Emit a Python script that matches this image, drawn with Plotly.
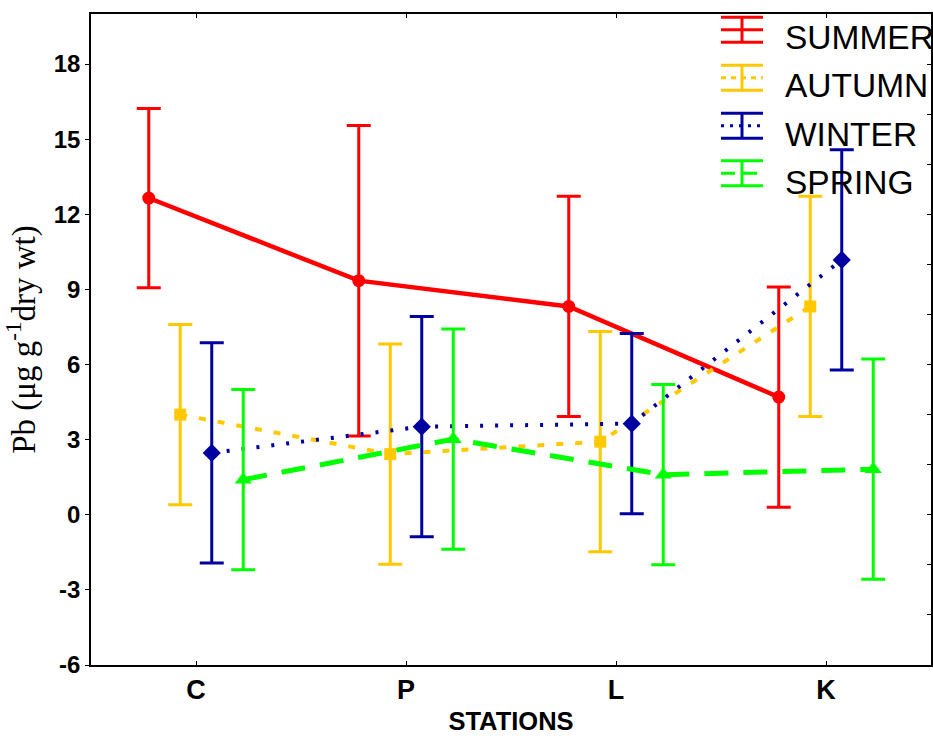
import plotly.graph_objects as go

# ---- data ----
stations = ["C", "P", "L", "K"]
seasons = ["SUMMER", "AUTUMN", "WINTER", "SPRING"]
summer_mean = [12.65, 9.35, 8.32, 4.70]
summer_err = [3.58, 6.2, 4.4, 4.4]
autumn_mean = [4.0, 2.42, 2.92, 8.32]
autumn_err = [3.6, 4.4, 4.4, 4.4]
winter_mean = [2.47, 3.52, 3.64, 10.18]
winter_err = [4.4, 4.4, 3.6, 4.4]
spring_mean = [1.4, 3.02, 1.6, 1.82]
spring_err = [3.6, 4.4, 3.6, 4.4]
season_offsets = [-0.225, -0.075, 0.075, 0.225]
y_tickvals = [-6, -3, 0, 3, 6, 9, 12, 15, 18]
y_ticktext = ["-6", "-3", "0", "3", "6", "9", "12", "15", "18"]

W, H = 933, 736
L, R, T, B = 91, 2, 14, 71
PW, PH = W - L - R, H - T - B

styles = {
    "SUMMER": dict(color="#FF0000", dash="solid", width=4.5, symbol="circle", msize=13),
    "AUTUMN": dict(color="#FFC800", dash="7px,12px", width=4, symbol="square", msize=12),
    "WINTER": dict(color="#0000A0", dash="3px,12px", width=4, symbol="diamond", msize=14),
    "SPRING": dict(color="#00FF00", dash="24px,15px", width=5, symbol="triangle-up", msize=15),
}
series = {
    "SUMMER": (summer_mean, summer_err),
    "AUTUMN": (autumn_mean, autumn_err),
    "WINTER": (winter_mean, winter_err),
    "SPRING": (spring_mean, spring_err),
}

fig = go.Figure()
for k, s in enumerate(seasons):
    mean, err = series[s]
    st = styles[s]
    xs = [i + season_offsets[k] for i in range(len(stations))]
    fig.add_trace(go.Scatter(
        x=xs, y=mean, mode="lines+markers", name=s, showlegend=False,
        line=dict(color=st["color"], width=st["width"], dash=st["dash"]),
        marker=dict(symbol=st["symbol"], size=st["msize"], color=st["color"]),
        error_y=dict(type="data", array=err, symmetric=True, color=st["color"],
                     thickness=3, width=12),
    ))

# invisible trace for the right-hand axis
fig.add_trace(go.Scatter(x=[None], y=[None], yaxis="y2", showlegend=False,
                         hoverinfo="skip"))

def px(xp):
    return (xp - L) / PW

def py(yp):
    return (H - B - yp) / PH

# custom legend (I-beam icons like the original)
shapes = []
annotations = []
icon_mid = [29.7, 77.7, 125.7, 173.3]
text_mid = [37.5, 85.5, 134.0, 182.5]
legend_dash = {"SUMMER": "solid", "AUTUMN": "5px,5px", "WINTER": "3px,6px", "SPRING": "14px,8px"}
for k, s in enumerate(seasons):
    st = styles[s]
    m = icon_mid[k]
    c = st["color"]
    for yy in (m - 12.5, m + 12.5):
        shapes.append(dict(type="line", xref="paper", yref="paper",
                           x0=px(721), x1=px(763), y0=py(yy), y1=py(yy),
                           line=dict(color=c, width=3)))
    shapes.append(dict(type="line", xref="paper", yref="paper",
                       x0=px(742), x1=px(742), y0=py(m - 12.5), y1=py(m + 12.5),
                       line=dict(color=c, width=3)))
    shapes.append(dict(type="line", xref="paper", yref="paper",
                       x0=px(721), x1=px(763), y0=py(m), y1=py(m),
                       line=dict(color=c, width=3, dash=legend_dash[s])))
    annotations.append(dict(xref="paper", yref="paper", x=px(783), y=py(text_mid[k]),
                            xanchor="left", yanchor="middle", text=s, showarrow=False,
                            font=dict(family="Liberation Sans", size=33.5, color="black")))

fig.update_layout(
    width=W, height=H,
    margin=dict(l=L, r=R, t=T, b=B, pad=0),
    paper_bgcolor="white", plot_bgcolor="white",
    showlegend=False,
    shapes=shapes, annotations=annotations,
    xaxis=dict(
        range=[-0.5, 3.5], tickvals=list(range(len(stations))), ticktext=stations,
        ticks="inside", ticklen=4, tickcolor="black", tickwidth=1,
        showline=True, linecolor="black", linewidth=1.5, mirror="ticks",
        showgrid=False, zeroline=False,
        tickfont=dict(family="Liberation Sans", size=27, color="black", weight="bold"),
        title=dict(text="STATIONS", standoff=8,
                   font=dict(family="Liberation Sans", size=25.5, color="black", weight="bold")),
    ),
    yaxis=dict(
        range=[-6, 20], tickvals=y_tickvals, ticktext=y_ticktext,
        ticks="outside", ticklen=4, tickcolor="black", tickwidth=1,
        showline=True, linecolor="black", linewidth=1.5,
        showgrid=False, zeroline=False,
        tickfont=dict(family="Liberation Sans", size=24, color="black", weight="bold"),
        title=dict(text="Pb (μg g<sup>-1</sup>dry wt)", standoff=14,
                   font=dict(family="Liberation Serif", size=33, color="black")),
    ),
    yaxis2=dict(
        range=[-6, 20], overlaying="y", side="right", dtick=2, tick0=0,
        ticks="inside", ticklen=4, tickcolor="black", showticklabels=False,
        showline=True, linecolor="black", linewidth=1.5,
        showgrid=False, zeroline=False,
    ),
)

fig.write_html("out.html")
